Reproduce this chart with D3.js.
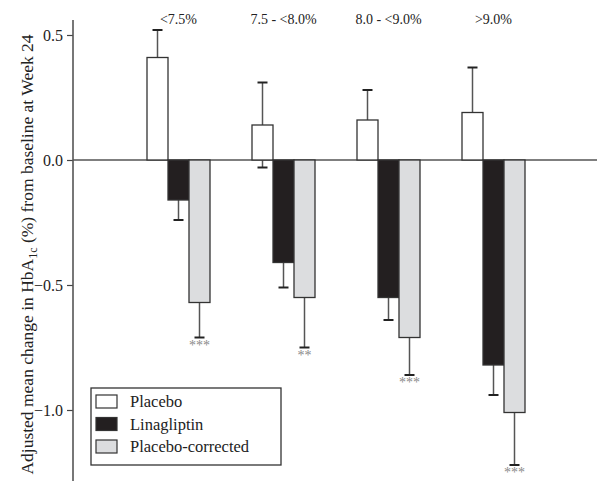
<!DOCTYPE html>
<html>
<head>
<meta charset="utf-8">
<script src="https://cdn.jsdelivr.net/npm/d3@7"></script>
<style>
  body { margin: 0; background: #fff; }
  svg text { font-family: "Liberation Serif", "Times New Roman", serif; }
</style>
</head>
<body>
<div id="chart"></div>
<script>
// HbA1c change by baseline HbA1c category
const categories = ["<7.5%", "7.5 - <8.0%", "8.0 - <9.0%", ">9.0%"];
const seriesNames = ["Placebo", "Linagliptin", "Placebo-corrected"];
const placebo = [0.41, 0.14, 0.16, 0.19];
const placeboSE = [0.11, 0.17, 0.12, 0.18];
const linagliptin = [-0.16, -0.41, -0.55, -0.82];
const linagliptinSE = [0.08, 0.10, 0.09, 0.12];
const corrected = [-0.57, -0.55, -0.71, -1.01];
const correctedSE = [0.14, 0.20, 0.15, 0.21];
const stars = ["***", "**", "***", "***"];
const yTicks = [0.5, 0.0, -0.5, -1.0];

const fills = ["#ffffff", "#231f20", "#dcdddf"];
const serif = "Liberation Serif, Times New Roman, serif";

const W = 598, H = 481;
const svg = d3.select("#chart").append("svg")
    .attr("width", W).attr("height", H);

// rows for drawing
const rows = [];
categories.forEach((c, i) => {
  rows.push({cat: c, s: 0, v: placebo[i], se: placeboSE[i]});
  rows.push({cat: c, s: 1, v: linagliptin[i], se: linagliptinSE[i]});
  rows.push({cat: c, s: 2, v: corrected[i], se: correctedSE[i], star: stars[i]});
});

const x0 = d3.scaleBand().domain(categories).range([126, 546])
    .paddingInner(0.4).paddingOuter(0.2);
const x1 = d3.scaleBand().domain([0, 1, 2]).range([0, x0.bandwidth()]);
const y = d3.scaleLinear().domain([-1.28, 0.56]).range([480, 20]);

const axisX = 73;

// y axis
const yAxis = d3.axisLeft(y).tickValues(yTicks).tickFormat(d3.format(".1f"))
    .tickSize(6).tickPadding(4);
const ga = svg.append("g").attr("transform", `translate(${axisX},0)`).call(yAxis);
ga.attr("font-family", serif);
ga.select(".domain").remove();
ga.selectAll(".tick line").attr("stroke", "#444").attr("stroke-width", 1.2);
ga.selectAll(".tick text").attr("font-size", 16).attr("fill", "#222")
    .attr("font-family", serif);
svg.append("line").attr("x1", axisX).attr("x2", axisX)
    .attr("y1", y(0.56)).attr("y2", H)
    .attr("stroke", "#555").attr("stroke-width", 1.6);

// zero line
svg.append("line").attr("x1", axisX).attr("x2", 597)
    .attr("y1", y(0)).attr("y2", y(0))
    .attr("stroke", "#555").attr("stroke-width", 1.4);

// y label
const yl = svg.append("text")
    .attr("transform", `translate(33,${(y(0.56) + H) / 2 + 4}) rotate(-90)`)
    .attr("text-anchor", "middle").attr("font-size", 17.5).attr("fill", "#222")
    .attr("font-family", serif);
yl.append("tspan").text("Adjusted mean change in HbA");
yl.append("tspan").text("1c").attr("font-size", 12).attr("dy", 4);
yl.append("tspan").text(" (%) from baseline at Week 24").attr("dy", -4);

// category labels
svg.selectAll(".cat").data(categories).enter().append("text")
    .attr("x", d => x0(d) + x0.bandwidth() / 2)
    .attr("y", 24)
    .attr("text-anchor", "middle").attr("font-size", 14).attr("fill", "#222")
    .attr("font-family", serif)
    .text(d => d);

// error bars (drawn under the bars so inner half is hidden)
const cx = d => x0(d.cat) + x1(d.s) + x1.bandwidth() / 2;
const eb = svg.append("g");
eb.selectAll("line.err").data(rows).enter().append("line")
    .attr("x1", cx).attr("x2", cx)
    .attr("y1", d => y(d.v + d.se)).attr("y2", d => y(d.v - d.se))
    .attr("stroke", "#555").attr("stroke-width", 1.5);
const caps = [];
rows.forEach(d => { caps.push({d, v: d.v + d.se}); caps.push({d, v: d.v - d.se}); });
eb.selectAll("line.cap").data(caps).enter().append("line")
    .attr("x1", c => cx(c.d) - 5).attr("x2", c => cx(c.d) + 5)
    .attr("y1", c => y(c.v)).attr("y2", c => y(c.v))
    .attr("stroke", "#222").attr("stroke-width", 2);

// bars
svg.append("g").selectAll("rect").data(rows).enter().append("rect")
    .attr("x", d => x0(d.cat) + x1(d.s))
    .attr("width", x1.bandwidth())
    .attr("y", d => y(Math.max(0, d.v)))
    .attr("height", d => Math.abs(y(d.v) - y(0)))
    .attr("fill", d => fills[d.s])
    .attr("stroke", "#333").attr("stroke-width", 1.3);

// significance stars
svg.selectAll(".star").data(rows.filter(d => d.star)).enter().append("text")
    .attr("x", cx)
    .attr("y", d => y(d.v - d.se) + 12)
    .attr("text-anchor", "middle").attr("font-size", 14).attr("fill", "#8a8a8a")
    .attr("font-family", serif)
    .text(d => d.star);

// legend
const lg = svg.append("g").attr("transform", "translate(91,388)");
lg.append("rect").attr("width", 190).attr("height", 77)
    .attr("fill", "#fff").attr("stroke", "#333").attr("stroke-width", 1.3);
seriesNames.forEach((n, i) => {
  const row = lg.append("g").attr("transform", `translate(0,${13.5 + i * 22.5})`);
  row.append("rect").attr("x", 5).attr("y", -6.5).attr("width", 21).attr("height", 13)
      .attr("fill", fills[i]).attr("stroke", "#333").attr("stroke-width", 1.2);
  row.append("text").attr("x", 39).attr("y", 5.5).attr("font-size", 16.5).attr("fill", "#222")
      .attr("font-family", serif)
      .text(n);
});
</script>
</body>
</html>
